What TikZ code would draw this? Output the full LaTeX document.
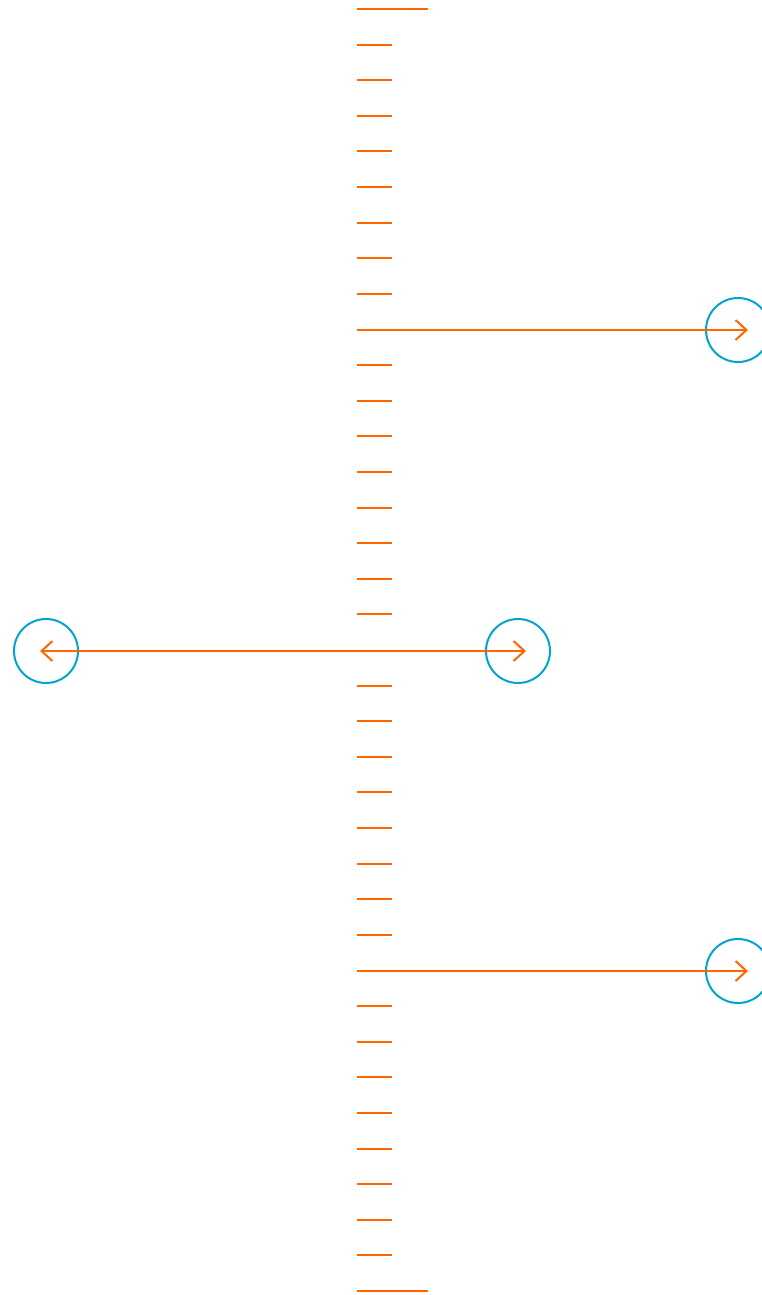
\documentclass[tikz,border=0pt]{standalone}
\usetikzlibrary{arrows.meta,positioning}

\definecolor{tickorange}{RGB}{255,102,0}
\definecolor{ringblue}{RGB}{0,164,204}

\tikzset{
  tick/.style={tickorange, line width=2pt},
  ray/.style={tickorange, line width=2pt, -{Straight Barb[length=11pt,width=20pt,line width=2pt]}},
  biray/.style={tickorange, line width=2pt, {Straight Barb[length=11pt,width=20pt,line width=2pt]}-{Straight Barb[length=11pt,width=20pt,line width=2pt]}},
  ring/.style={circle, draw=ringblue, line width=2pt, minimum size=64pt, inner sep=0pt}
}

\begin{document}
\begin{tikzpicture}[x=1pt,y=-1pt]
\useasboundingbox (0,0) rectangle (761,1295);

% scale
\draw[tick] (357,9) -- (428,9);
\draw[tick] (357,1291) -- (428,1291);
\foreach \i in {1,...,8,10,11,...,17,19,20,...,26,28,29,...,35}
    \draw[tick] (357,9+\i*35.611) -- (392,9+\i*35.611);

% rings
\node[ring] (r1) at (738,330) {};
\node[ring] (l2) at (46,651) {};
\node[ring] (r2) at (518,651) {};
\node[ring] (r3) at (738,971) {};

% rays
\coordinate (a1) at (357,330);
\coordinate (a3) at (357,971);
\draw[ray] (a1) -- ([xshift=10pt]r1.center);
\draw[ray] (a3) -- ([xshift=10pt]r3.center);
\draw[biray] ([xshift=-6pt]l2.center) -- ([xshift=8pt]r2.center);
\end{tikzpicture}
\end{document}
